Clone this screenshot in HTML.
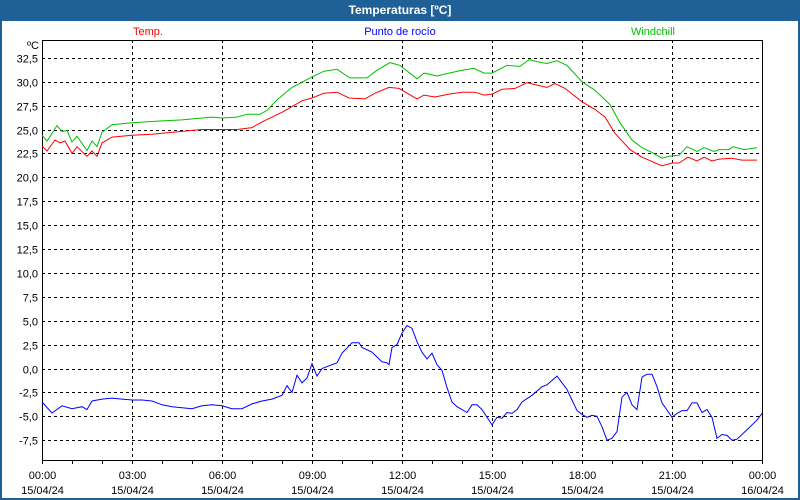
<!DOCTYPE html>
<html><head><meta charset="utf-8"><style>
html,body{margin:0;padding:0;background:#fff}
#wrap{position:relative;width:800px;height:500px;overflow:hidden;background:#fff;box-sizing:border-box;border:2px solid #1f6096;border-top:none}
#title{position:absolute;left:0;top:0;width:800px;height:21px;background:#1f6096;color:#fff;font:bold 12px "Liberation Sans",sans-serif;text-align:center;line-height:20px}
svg{position:absolute;left:0;top:0}
text{font-family:"Liberation Sans",sans-serif;font-size:11px}
</style></head><body>
<div id="wrap">
<div id="title" style="left:-2px">Temperaturas [ºC]</div>
<svg id="chart" width="800" height="500"></svg>
</div>
<script>
const yTicks=[-7.5,-5,-2.5,0,2.5,5,7.5,10,12.5,15,17.5,20,22.5,25,27.5,30,32.5];
const yTickLabels=["-7,5","-5,0","-2,5","0,0","2,5","5,0","7,5","10,0","12,5","15,0","17,5","20,0","22,5","25,0","27,5","30,0","32,5"];
const xTickHours=[0,3,6,9,12,15,18,21,24];
const xTickTimes=["00:00","03:00","06:00","09:00","12:00","15:00","18:00","21:00","00:00"];
const xTickDates=["15/04/24","15/04/24","15/04/24","15/04/24","15/04/24","15/04/24","15/04/24","15/04/24","16/04/24"];
const tempMinutes=[0,10,26,36,46,60,70,90,100,110,120,140,180,220,280,320,350,390,420,440,480,520,540,564,590,614,646,666,694,714,750,764,786,814,840,866,884,900,920,946,970,986,1010,1026,1046,1080,1106,1126,1146,1176,1200,1240,1260,1274,1292,1310,1324,1340,1354,1380,1400,1430];
const tempValues=[23.27,22.75,23.9,23.6,23.8,22.5,23.2,22.2,22.75,22.2,23.6,24.2,24.4,24.5,24.8,25,25,25,25.2,25.8,26.8,28,28.3,28.8,28.9,28.3,28.2,28.8,29.4,29.3,28.2,28.6,28.4,28.7,28.9,28.9,28.6,28.7,29.2,29.3,29.9,29.7,29.4,29.8,29.3,27.9,27.1,26.3,24.6,22.9,22.1,21.2,21.5,21.5,22.1,21.7,22.1,21.7,21.9,22.0,21.8,21.8];
const windMinutes=[0,10,30,40,50,60,70,90,100,110,120,140,180,240,280,320,340,360,390,410,436,450,470,500,540,564,590,616,650,670,696,716,750,764,790,814,840,864,884,900,930,956,974,990,1010,1030,1050,1080,1106,1136,1156,1180,1200,1220,1240,1254,1274,1290,1310,1324,1344,1354,1374,1382,1404,1430];
const windValues=[24.4,23.8,25.4,24.8,24.9,23.7,24.3,22.8,23.8,23.2,24.7,25.5,25.7,25.9,26.0,26.2,26.3,26.2,26.3,26.6,26.6,27.0,28.1,29.4,30.5,31.1,31.3,30.4,30.4,31.2,32.0,31.7,30.3,30.9,30.6,30.9,31.2,31.4,30.9,30.9,31.7,31.6,32.3,32.1,31.9,32.2,31.7,30.0,29.1,27.6,25.7,23.9,23.1,22.6,22.0,22.2,22.3,23.2,22.7,23.1,22.7,22.9,22.9,23.2,22.9,23.1];
const dewMinutes=[0,20,40,60,80,90,100,120,140,160,180,200,220,240,260,280,300,320,340,360,380,400,420,440,460,480,490,500,510,520,530,540,550,560,580,590,600,620,634,640,660,670,680,690,694,700,710,720,730,740,750,760,770,780,790,800,810,820,830,850,860,870,880,900,910,920,930,940,950,960,980,1000,1010,1030,1050,1070,1080,1090,1100,1110,1120,1130,1140,1150,1160,1170,1180,1190,1200,1210,1220,1230,1240,1260,1270,1280,1290,1300,1310,1320,1330,1340,1350,1360,1370,1380,1390,1410,1430,1440];
const dewValues=[-3.5,-4.65,-3.9,-4.2,-4.0,-4.3,-3.4,-3.2,-3.1,-3.2,-3.3,-3.3,-3.4,-3.8,-4.0,-4.1,-4.2,-3.9,-3.8,-3.9,-4.2,-4.2,-3.7,-3.4,-3.2,-2.8,-1.8,-2.5,-0.7,-1.5,-1.0,0.5,-0.8,0.0,0.4,0.6,1.6,2.7,2.7,2.2,1.7,1.2,0.7,0.6,0.4,2.2,2.5,3.7,4.5,4.2,2.8,1.7,1.0,1.6,0.4,-0.2,-2.0,-3.5,-4.0,-4.6,-3.8,-3.8,-4.3,-5.9,-5.1,-5.2,-4.6,-4.7,-4.3,-3.5,-2.8,-1.9,-1.7,-0.8,-2.2,-4.4,-4.8,-5.1,-4.9,-5.0,-6.1,-7.5,-7.3,-6.6,-3.0,-2.5,-3.8,-4.3,-0.9,-0.6,-0.6,-1.9,-3.6,-5.1,-4.7,-4.4,-4.4,-3.6,-3.6,-4.6,-4.3,-5.1,-7.3,-6.9,-7.0,-7.5,-7.4,-6.4,-5.4,-4.7];

const NS="http://www.w3.org/2000/svg";
const svg=document.getElementById('chart');
const L=40,R=760,T=40,B=460;
function xScale(min){return L+(R-L)*min/1440;}
function yScale(v){return 368.5-v*9.56;}
function mk(tag,attrs){const e=document.createElementNS(NS,tag);for(const k in attrs)e.setAttribute(k,attrs[k]);svg.appendChild(e);return e;}

// horizontal grid + y labels
yTicks.forEach((v,i)=>{
  const y=Math.round(yScale(v))+0.5;
  const g=mk('line',{x1:L,x2:R,y1:y,y2:y,stroke:'#000','stroke-dasharray':'3,3','stroke-width':1});
  
  
  const t=mk('text',{x:36,y:y+4,'text-anchor':'end',fill:'#000'});
  t.textContent=yTickLabels[i];
  
  
});
// vertical grid + x labels
xTickHours.forEach((h,i)=>{
  const x=Math.round(xScale(h*60))+0.5;
  if(i>0&&i<xTickHours.length-1){
    const g=mk('line',{x1:x,x2:x,y1:T,y2:B,stroke:'#000','stroke-dasharray':'3,3','stroke-width':1});
    
    
  }
  const t1=mk('text',{x:x,y:479,'text-anchor':'middle',fill:'#000'});
  t1.textContent=xTickTimes[i];
  
  
  const t2=mk('text',{x:x,y:494,'text-anchor':'middle',fill:'#000'});
  t2.textContent=xTickDates[i];
  
  
});
for(let h=0;h<=24;h++){
  const x=Math.round(xScale(h*60))+0.5;
  const tk=mk('line',{x1:x,x2:x,y1:B,y2:B+4,stroke:'#000'});
  
  
}
// frame
const fr=mk('rect',{x:L+0.5,y:T+0.5,width:R-L,height:B-T,fill:'none',stroke:'#000','stroke-width':1});


const unit=mk('text',{x:25,y:49,fill:'#000'});
unit.textContent='ºC';



function series(mins,vals,color,name){
  const pts=mins.map((m,i)=>xScale(m).toFixed(1)+','+yScale(vals[i]).toFixed(1)).join(' ');
  const p=mk('polyline',{points:pts,fill:'none',stroke:color,'stroke-width':1});
  
  
}
series(windMinutes,windValues,'#00c000','windchill-line');
series(tempMinutes,tempValues,'#ff0000','temp-line');
series(dewMinutes,dewValues,'#0000ff','dewpoint-line');

const leg=[['Temp.',146,'#ff0000','legend-temp'],['Punto de rocío',398,'#0000ff','legend-dewpoint'],['Windchill',651,'#00c000','legend-windchill']];
leg.forEach(l=>{
  const t=mk('text',{x:l[1],y:35,'text-anchor':'middle',fill:l[2]});
  t.textContent=l[0];
  
  
});
</script>
</body></html>
